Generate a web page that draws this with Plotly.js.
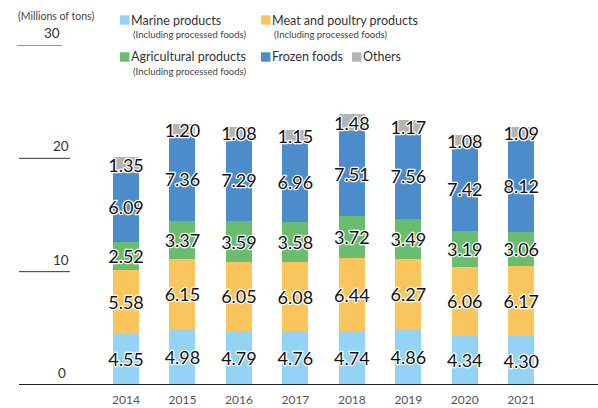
<!DOCTYPE html>
<html><head><meta charset="utf-8">
<script src="https://cdn.plot.ly/plotly-3.0.1.min.js"></script>
<style>
html,body{margin:0;padding:0;background:#fff;}
#chart{width:598px;height:408px;}
.js-plotly-plot .bars .bartext{paint-order:stroke;stroke:#ffffff !important;stroke-width:2.5px !important;stroke-linejoin:round;}
</style>
</head><body>
<div id="chart"></div>
<script>
const years = ['2014','2015','2016','2017','2018','2019','2020','2021'];
const marine = [4.55,4.98,4.79,4.76,4.74,4.86,4.34,4.30];
const meat = [5.58,6.15,6.05,6.08,6.44,6.27,6.06,6.17];
const agri = [2.52,3.37,3.59,3.58,3.72,3.49,3.19,3.06];
const frozen = [6.09,7.36,7.29,6.96,7.51,7.56,7.42,8.12];
const others = [1.35,1.20,1.08,1.15,1.48,1.17,1.08,1.09];
const yTicks = [0,10,20,30];
const yUnit = '(Millions of tons)';
const seriesNames = ['Marine products','Meat and poultry products','Agricultural products','Frozen foods','Others'];
const seriesSub = ['(Including processed foods)','(Including processed foods)','(Including processed foods)','',''];
const colors = ['#93d3f3','#f9c55c','#6abd6f','#4d8ccb','#b4b4b4'];
const values = [marine, meat, agri, frozen, others];

const W=598,H=408,T=45,B=23;
const px = v => v/W;
const py = v => (H-B-v)/(H-T-B);

const traces = values.map((vals,i)=>({
  type:'bar', x:years, y:vals, name:seriesNames[i],
  marker:{color:colors[i], line:{width:0}},
  texttemplate:'%{y:.2f}', textposition:'inside', insidetextanchor:'middle',
  constraintext:'none', textangle:0, cliponaxis:false,
  textfont:{family:'Lato, sans-serif', size:18, color:'#111'},
  hoverinfo:'skip', showlegend:false
}));

const shapes=[], annotations=[];
const tickFont = {family:'Lato, sans-serif', size:13.5, color:'#333'};
yTicks.forEach(t=>{
  if(t===0){
    shapes.push({type:'line', xref:'paper', yref:'y', x0:px(19), x1:1, y0:0, y1:0, line:{color:'#222', width:2}, layer:'above'});
    annotations.push({xref:'paper', yref:'y', x:px(68), y:t, xanchor:'right', yanchor:'bottom', yshift:2, text:String(t), showarrow:false, font:tickFont});
  } else if(t===30){
    shapes.push({type:'line', xref:'paper', yref:'y', x0:px(17), x1:px(62), y0:t, y1:t, line:{color:'#333', width:1}});
    annotations.push({xref:'paper', yref:'y', x:px(62), y:t, xanchor:'right', yanchor:'bottom', yshift:2, text:String(t), showarrow:false, font:tickFont});
  } else {
    shapes.push({type:'line', xref:'paper', yref:'y', x0:px(19), x1:px(70), y0:t, y1:t, line:{color:'#333', width:1}});
    annotations.push({xref:'paper', yref:'y', x:px(71), y:t, xanchor:'right', yanchor:'bottom', yshift:2, text:String(t), showarrow:false, font:tickFont});
  }
});
annotations.push({xref:'paper', yref:'paper', x:px(16), y:py(16), xanchor:'left', yanchor:'middle', text:yUnit, showarrow:false, font:{family:'Lato, sans-serif', size:10.5, color:'#444'}});

// legend
const legPos = [[120,20],[261,20],[120,57],[261,57],[352,57]];
seriesNames.forEach((n,i)=>{
  const [lx,ly]=legPos[i];
  shapes.push({type:'rect', xref:'paper', yref:'paper', x0:px(lx), x1:px(lx+9.5), y0:py(ly-4.7), y1:py(ly+4.7), fillcolor:colors[i], line:{width:0}});
  annotations.push({xref:'paper', yref:'paper', x:px(lx+9), y:py(ly), xanchor:'left', yanchor:'middle', text:n, showarrow:false, font:{family:'Lato, sans-serif', size:12.5, color:'#333'}});
  if(seriesSub[i]) annotations.push({xref:'paper', yref:'paper', x:px(lx+11), y:py(ly+14.5), xanchor:'left', yanchor:'middle', text:seriesSub[i], showarrow:false, font:{family:'Lato, sans-serif', size:9.5, color:'#444'}});
});

const spacing = 56.46;
const r0 = -126/spacing;
const layout = {
  width:W, height:H, margin:{l:0,r:0,t:T,b:B},
  paper_bgcolor:'#fff', plot_bgcolor:'rgba(0,0,0,0)',
  barmode:'stack', bargap:0.54,
  showlegend:false,
  xaxis:{type:'category', range:[r0, r0+W/spacing], showgrid:false, zeroline:false, showline:false,
         ticks:'', tickfont:{family:'Lato, sans-serif', size:12, color:'#555'}, ticklabelstandoff:6, fixedrange:true},
  yaxis:{range:[0,30], showgrid:false, zeroline:false, showline:false, showticklabels:false, ticks:'', fixedrange:true},
  shapes, annotations,
  font:{family:'Lato, sans-serif'}
};
Plotly.newPlot('chart', traces, layout, {displayModeBar:false, staticPlot:true});
</script>
</body></html>
